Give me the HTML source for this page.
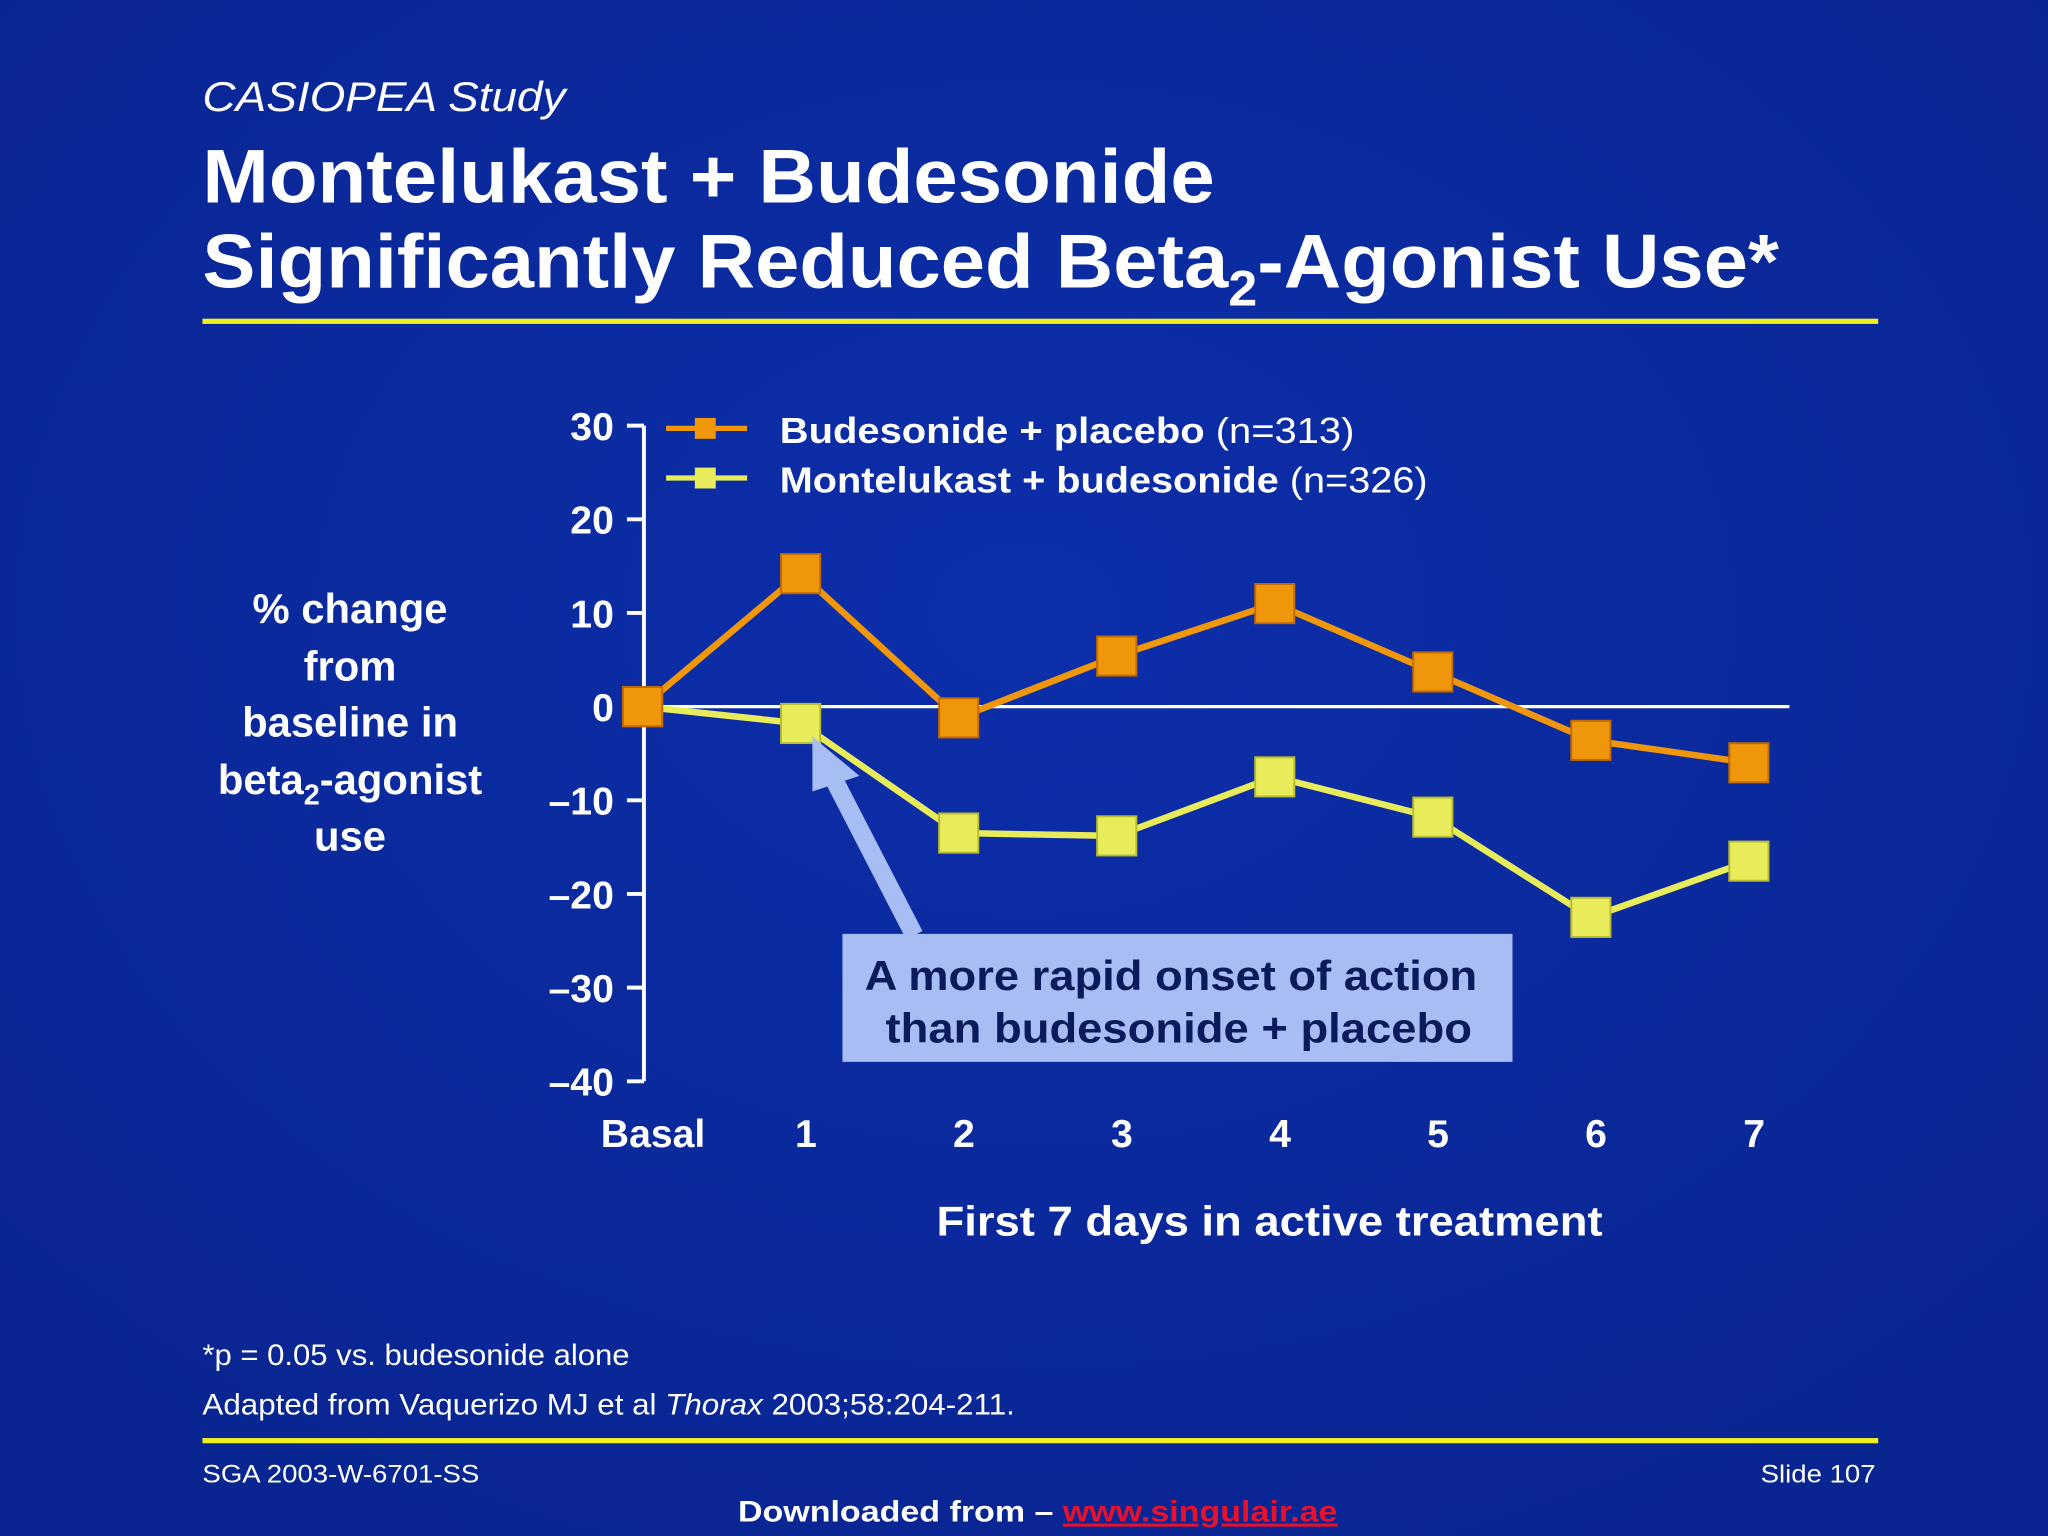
<!DOCTYPE html>
<html><head><meta charset="utf-8"><style>
html,body{margin:0;padding:0;background:#0a2896;}
svg{display:block;font-family:"Liberation Sans",sans-serif;}
</style></head><body>
<svg width="2048" height="1536" viewBox="0 0 1568 1176" xmlns="http://www.w3.org/2000/svg">
<defs>
<radialGradient id="bg" cx="50%" cy="40%" r="75%">
<stop offset="0" stop-color="#0c2eaa"/><stop offset="1" stop-color="#08248e"/>
</radialGradient>
</defs>
<rect width="1568" height="1176" fill="url(#bg)"/>
<text x="155" y="85" fill="#fff" font-size="32" font-style="italic" textLength="278" lengthAdjust="spacingAndGlyphs">CASIOPEA Study</text>
<text x="155" y="155" fill="#fff" font-size="58" font-weight="bold" textLength="775" lengthAdjust="spacingAndGlyphs">Montelukast + Budesonide</text>
<text x="155" y="220" fill="#fff" font-size="58" font-weight="bold" textLength="1207" lengthAdjust="spacingAndGlyphs">Significantly Reduced Beta<tspan font-size="38" dy="14">2</tspan><tspan dy="-14">-Agonist Use*</tspan></text>
<rect x="155" y="244" width="1283" height="4" fill="#f0f020"/>

<g fill="#fff" font-size="32" font-weight="bold" text-anchor="middle">
<text x="268" y="477">% change</text>
<text x="268" y="521">from</text>
<text x="268" y="564">baseline in</text>
<text x="268" y="608">beta<tspan font-size="22" dy="8">2</tspan><tspan dy="-8">-agonist</tspan></text>
<text x="268" y="651">use</text>
</g>

<g id="chart"></g>

<g>
<line x1="510" y1="328" x2="572" y2="328" stroke="#f0960a" stroke-width="4"/>
<rect x="532" y="320" width="16" height="16" fill="#f0960a"/>
<text x="597" y="339" fill="#fff" font-size="28" textLength="440" lengthAdjust="spacingAndGlyphs"><tspan font-weight="bold">Budesonide + placebo</tspan> (n=313)</text>
<line x1="510" y1="366" x2="572" y2="366" stroke="#e8ec5a" stroke-width="4"/>
<rect x="532" y="358" width="16" height="16" fill="#e8ec5a"/>
<text x="597" y="377" fill="#fff" font-size="28" textLength="496" lengthAdjust="spacingAndGlyphs"><tspan font-weight="bold">Montelukast + budesonide</tspan> (n=326)</text>
</g>

<g>
<line x1="700" y1="716" x2="636" y2="592" stroke="#a9bdf5" stroke-width="14"/>
<polygon points="622,564 658,594 622,606" fill="#a9bdf5"/>
<rect x="645" y="715" width="513" height="98" fill="#a9bdf5"/>
<text x="662" y="758" fill="#0a1a5a" font-size="32" font-weight="bold" textLength="469" lengthAdjust="spacingAndGlyphs">A more rapid onset of action</text>
<text x="678" y="798" fill="#0a1a5a" font-size="32" font-weight="bold" textLength="449" lengthAdjust="spacingAndGlyphs">than budesonide + placebo</text>
</g>

<text x="717" y="946" fill="#fff" font-size="32" font-weight="bold" textLength="510" lengthAdjust="spacingAndGlyphs">First 7 days in active treatment</text>

<text x="155" y="1045" fill="#fff" font-size="23" textLength="327" lengthAdjust="spacingAndGlyphs">*p = 0.05 vs. budesonide alone</text>
<text x="155" y="1083" fill="#fff" font-size="23" textLength="622" lengthAdjust="spacingAndGlyphs">Adapted from Vaquerizo MJ et al <tspan font-style="italic">Thorax</tspan> 2003;58:204-211.</text>
<rect x="155" y="1101" width="1283" height="4" fill="#f0f020"/>
<text x="155" y="1135" fill="#fff" font-size="19" textLength="212" lengthAdjust="spacingAndGlyphs">SGA 2003-W-6701-SS</text>
<text x="1348" y="1135" fill="#fff" font-size="19" textLength="88" lengthAdjust="spacingAndGlyphs">Slide 107</text>
<text x="565" y="1165" fill="#fff" font-size="23" font-weight="bold" textLength="459" lengthAdjust="spacingAndGlyphs">Downloaded from – <tspan fill="#e8102a" text-decoration="underline">www.singulair.ae</tspan></text>
</svg>
<script>
const categories = ["Basal","1","2","3","4","5","6","7"];
const budesonidePlacebo = [0, 14.2, -1.2, 5.4, 11, 3.7, -3.6, -6];
const montelukastBudesonide = [0, -1.8, -13.5, -13.8, -7.5, -11.8, -22.5, -16.5];
const yTicks = [30, 20, 10, 0, -10, -20, -30, -40];
const yTickLabels = ["30","20","10","0","\u201310","\u201320","\u201330","\u201340"];

const NS = "http://www.w3.org/2000/svg";
const chart = document.getElementById("chart");
const x0 = 492, step = 121;
function xs(i){ return x0 + i*step; }
function ys(v){ return 541 - v*(502/70); }
function mk(tag, attrs){ const e=document.createElementNS(NS,tag); for(const k in attrs) e.setAttribute(k,attrs[k]); chart.appendChild(e); return e; }

const axis = mk("line",{x1:493,y1:ys(30),x2:493,y2:ys(-40),stroke:"#fff","stroke-width":3});


yTicks.forEach((t,i)=>{
  const tk = mk("line",{x1:480,y1:ys(t),x2:493,y2:ys(t),stroke:"#fff","stroke-width":3});
  
  
  const lb = mk("text",{x:470,y:ys(t)+11,fill:"#fff","font-size":30,"font-weight":"bold","text-anchor":"end"});
  lb.textContent = yTickLabels[i];
  
  
});
const zero = mk("line",{x1:493,y1:ys(0),x2:1370,y2:ys(0),stroke:"#fff","stroke-width":2.5});


categories.forEach((c,i)=>{
  const lb = mk("text",{x:xs(i)+(i===0?8:4),y:878,fill:"#fff","font-size":30,"font-weight":"bold","text-anchor":"middle"});
  lb.textContent = c;
  
  
});
function series(vals, color, stroke, name){
  const pts = vals.map((v,i)=>xs(i)+","+ys(v)).join(" ");
  const pl = mk("polyline",{points:pts,fill:"none",stroke:color,"stroke-width":5});
  
  
  vals.forEach((v,i)=>{
    const r = mk("rect",{x:xs(i)-15,y:ys(v)-15,width:30,height:30,fill:color,stroke:stroke,"stroke-width":1.5});
    
    
  });
}
series(montelukastBudesonide, "#e8ec5a", "#b8bc30", "montelukast-budesonide");
series(budesonidePlacebo, "#f0960a", "#c06a00", "budesonide-placebo");
</script>
</body></html>
